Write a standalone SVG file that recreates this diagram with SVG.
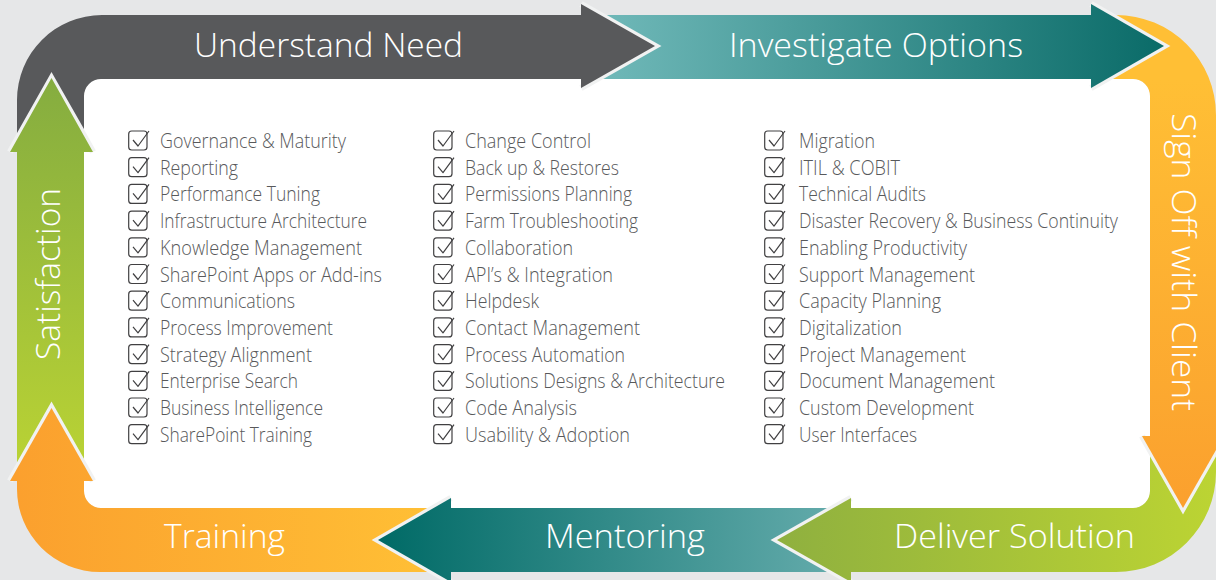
<svg xmlns="http://www.w3.org/2000/svg" xmlns:xlink="http://www.w3.org/1999/xlink" width="1216" height="580" viewBox="0 0 1216 580">
<style>
text{font-family:"Open Sans","Noto Sans","Liberation Sans",sans-serif;font-weight:300}
.h{font-size:33px;fill:#fff}
.i{font-size:19.5px;fill:#58595b}
.o{fill:none;stroke:#f1f2f2;stroke-width:6.4;stroke-miterlimit:10}
.c{fill:none;stroke:#414042;stroke-width:1.2;stroke-linejoin:round}
</style>
<defs>
<linearGradient id="gI" gradientUnits="userSpaceOnUse" x1="605" y1="0" x2="1164" y2="0"><stop offset="0" stop-color="#6fb8b8"/><stop offset="1" stop-color="#0a6b68"/></linearGradient>
<linearGradient id="gS" gradientUnits="userSpaceOnUse" x1="0" y1="80" x2="0" y2="508"><stop offset="0" stop-color="#ffbf35"/><stop offset="1" stop-color="#fba02e"/></linearGradient>
<linearGradient id="gD" gradientUnits="userSpaceOnUse" x1="777" y1="0" x2="1216" y2="0"><stop offset="0" stop-color="#8fb03f"/><stop offset="1" stop-color="#bcd433"/></linearGradient>
<linearGradient id="gM" gradientUnits="userSpaceOnUse" x1="378" y1="0" x2="830" y2="0"><stop offset="0" stop-color="#006a66"/><stop offset="1" stop-color="#62aaaa"/></linearGradient>
<linearGradient id="gT" gradientUnits="userSpaceOnUse" x1="17" y1="0" x2="430" y2="0"><stop offset="0" stop-color="#fba02e"/><stop offset="1" stop-color="#ffbf35"/></linearGradient>
<linearGradient id="gA" gradientUnits="userSpaceOnUse" x1="0" y1="72" x2="0" y2="470"><stop offset="0" stop-color="#84ac40"/><stop offset="1" stop-color="#bad334"/></linearGradient>
<g id="cb"><rect class="c" x="128.700" y="131" width="18.300" height="19" rx="3"/><path class="c" d="M133 140L138 146L149 131"/></g>
</defs>
<rect id="background" width="1216" height="580" fill="#e6e7e8"/>
<rect id="panel" x="84" y="79" width="1066" height="429" rx="17" fill="#fff"/>
<g id="connectors"></g>
<g id="satisfaction">
<path class="o" d="M10 152L51.500 78L93 152"/>
<path fill="url(#gA)" d="M17 480V152H10L51.500 78L93 152H84V480Z"/>
<text class="h" transform="translate(60 360) rotate(-90)" textLength="172" lengthAdjust="spacingAndGlyphs">Satisfaction</text>
</g>
<g id="training">
<path fill="url(#gT)" d="M440 572H100A83 83 0 0 1 17 489V481H10L51.500 408L93 481H84V491A17 17 0 0 0 101 508H440Z"/>
<path class="o" d="M10 481L51.500 408L93 481"/>
<path fill="url(#gT)" d="M10 481L51.500 408L93 481Z"/>
<text class="h" x="164" y="548" textLength="121" lengthAdjust="spacingAndGlyphs">Training</text>
</g>
<g id="mentoring">
<path fill="url(#gM)" d="M840 508H451V498L378 540L451 582V572H840Z"/>
<path class="o" d="M451 498L378 540L451 582"/>
<path fill="url(#gM)" d="M451 498L378 540L451 582Z"/>
<text class="h" x="545" y="548" textLength="160" lengthAdjust="spacingAndGlyphs">Mentoring</text>
</g>
<g id="deliver">
<path fill="url(#gD)" d="M851 508V498L777 540L851 582V572H1116A100 100 0 0 0 1216 472V440H1150V491A17 17 0 0 1 1133 508Z"/>
<path class="o" d="M851 498L777 540L851 582"/>
<path fill="url(#gD)" d="M851 498L777 540L851 582Z"/>
<text class="h" x="894" y="548" textLength="241" lengthAdjust="spacingAndGlyphs">Deliver Solution</text>
</g>
<g id="signoff">
<path fill="url(#gS)" d="M1110 15H1116A100 100 0 0 1 1216 115V436H1224L1183 508L1142 436H1150V96A17 17 0 0 0 1133 79H1110Z"/>
<path class="o" d="M1142 436L1183 508L1224 436"/>
<path fill="url(#gS)" d="M1142 436L1183 508L1224 436Z"/>
<text class="h" transform="translate(1172 113) rotate(90)" textLength="298" lengthAdjust="spacingAndGlyphs">Sign Off with Client</text>
</g>
<g id="investigate">
<path fill="url(#gI)" d="M600 15H1091V4L1164 46L1091 88V79H600Z"/>
<path class="o" d="M1091 4L1164 46L1091 88"/>
<path fill="url(#gI)" d="M1091 4L1164 46L1091 88Z"/>
<text class="h" x="729" y="57" textLength="294" lengthAdjust="spacingAndGlyphs">Investigate Options</text>
</g>
<g id="understand">
<path class="o" d="M581 4L655 46L581 88"/>
<path fill="#58595b" d="M17 133V100A85 85 0 0 1 102 15H581V4L655 46L581 88V79H101A17 17 0 0 0 84 96V129L51.500 72Z"/>
<text class="h" x="194" y="57" textLength="269" lengthAdjust="spacingAndGlyphs">Understand Need</text>
</g>
<g id="checklist-1">
<use href="#cb"/><text class="i" x="160" y="148" textLength="186" lengthAdjust="spacingAndGlyphs">Governance &amp; Maturity</text>
<use href="#cb" y="26.700"/><text class="i" x="160" y="175" textLength="78" lengthAdjust="spacingAndGlyphs">Reporting</text>
<use href="#cb" y="53.400"/><text class="i" x="160" y="201" textLength="160" lengthAdjust="spacingAndGlyphs">Performance Tuning</text>
<use href="#cb" y="80.100"/><text class="i" x="160" y="228" textLength="207" lengthAdjust="spacingAndGlyphs">Infrastructure Architecture</text>
<use href="#cb" y="106.800"/><text class="i" x="160" y="255" textLength="202" lengthAdjust="spacingAndGlyphs">Knowledge Management</text>
<use href="#cb" y="133.500"/><text class="i" x="160" y="282" textLength="222" lengthAdjust="spacingAndGlyphs">SharePoint Apps or Add-ins</text>
<use href="#cb" y="160.200"/><text class="i" x="160" y="308" textLength="135" lengthAdjust="spacingAndGlyphs">Communications</text>
<use href="#cb" y="186.900"/><text class="i" x="160" y="335" textLength="173" lengthAdjust="spacingAndGlyphs">Process Improvement</text>
<use href="#cb" y="213.600"/><text class="i" x="160" y="362" textLength="152" lengthAdjust="spacingAndGlyphs">Strategy Alignment</text>
<use href="#cb" y="240.300"/><text class="i" x="160" y="388" textLength="138" lengthAdjust="spacingAndGlyphs">Enterprise Search</text>
<use href="#cb" y="267"/><text class="i" x="160" y="415" textLength="163" lengthAdjust="spacingAndGlyphs">Business Intelligence</text>
<use href="#cb" y="293.700"/><text class="i" x="160" y="442" textLength="152" lengthAdjust="spacingAndGlyphs">SharePoint Training</text>
</g>
<g id="checklist-2">
<use href="#cb" x="305"/><text class="i" x="465" y="148" textLength="126" lengthAdjust="spacingAndGlyphs">Change Control</text>
<use href="#cb" x="305" y="26.700"/><text class="i" x="465" y="175" textLength="154" lengthAdjust="spacingAndGlyphs">Back up &amp; Restores</text>
<use href="#cb" x="305" y="53.400"/><text class="i" x="465" y="201" textLength="167" lengthAdjust="spacingAndGlyphs">Permissions Planning</text>
<use href="#cb" x="305" y="80.100"/><text class="i" x="465" y="228" textLength="173" lengthAdjust="spacingAndGlyphs">Farm Troubleshooting</text>
<use href="#cb" x="305" y="106.800"/><text class="i" x="465" y="255" textLength="108" lengthAdjust="spacingAndGlyphs">Collaboration</text>
<use href="#cb" x="305" y="133.500"/><text class="i" x="465" y="282" textLength="148" lengthAdjust="spacingAndGlyphs">API’s &amp; Integration</text>
<use href="#cb" x="305" y="160.200"/><text class="i" x="465" y="308" textLength="74" lengthAdjust="spacingAndGlyphs">Helpdesk</text>
<use href="#cb" x="305" y="186.900"/><text class="i" x="465" y="335" textLength="175" lengthAdjust="spacingAndGlyphs">Contact Management</text>
<use href="#cb" x="305" y="213.600"/><text class="i" x="465" y="362" textLength="160" lengthAdjust="spacingAndGlyphs">Process Automation</text>
<use href="#cb" x="305" y="240.300"/><text class="i" x="465" y="388" textLength="260" lengthAdjust="spacingAndGlyphs">Solutions Designs &amp; Architecture</text>
<use href="#cb" x="305" y="267"/><text class="i" x="465" y="415" textLength="112" lengthAdjust="spacingAndGlyphs">Code Analysis</text>
<use href="#cb" x="305" y="293.700"/><text class="i" x="465" y="442" textLength="165" lengthAdjust="spacingAndGlyphs">Usability &amp; Adoption</text>
</g>
<g id="checklist-3">
<use href="#cb" x="636"/><text class="i" x="799" y="148" textLength="76" lengthAdjust="spacingAndGlyphs">Migration</text>
<use href="#cb" x="636" y="26.700"/><text class="i" x="799" y="175" textLength="101" lengthAdjust="spacingAndGlyphs">ITIL &amp; COBIT</text>
<use href="#cb" x="636" y="53.400"/><text class="i" x="799" y="201" textLength="127" lengthAdjust="spacingAndGlyphs">Technical Audits</text>
<use href="#cb" x="636" y="80.100"/><text class="i" x="799" y="228" textLength="319" lengthAdjust="spacingAndGlyphs">Disaster Recovery &amp; Business Continuity</text>
<use href="#cb" x="636" y="106.800"/><text class="i" x="799" y="255" textLength="168" lengthAdjust="spacingAndGlyphs">Enabling Productivity</text>
<use href="#cb" x="636" y="133.500"/><text class="i" x="799" y="282" textLength="176" lengthAdjust="spacingAndGlyphs">Support Management</text>
<use href="#cb" x="636" y="160.200"/><text class="i" x="799" y="308" textLength="142" lengthAdjust="spacingAndGlyphs">Capacity Planning</text>
<use href="#cb" x="636" y="186.900"/><text class="i" x="799" y="335" textLength="103" lengthAdjust="spacingAndGlyphs">Digitalization</text>
<use href="#cb" x="636" y="213.600"/><text class="i" x="799" y="362" textLength="167" lengthAdjust="spacingAndGlyphs">Project Management</text>
<use href="#cb" x="636" y="240.300"/><text class="i" x="799" y="388" textLength="196" lengthAdjust="spacingAndGlyphs">Document Management</text>
<use href="#cb" x="636" y="267"/><text class="i" x="799" y="415" textLength="175" lengthAdjust="spacingAndGlyphs">Custom Development</text>
<use href="#cb" x="636" y="293.700"/><text class="i" x="799" y="442" textLength="118" lengthAdjust="spacingAndGlyphs">User Interfaces</text>
</g>
</svg>
